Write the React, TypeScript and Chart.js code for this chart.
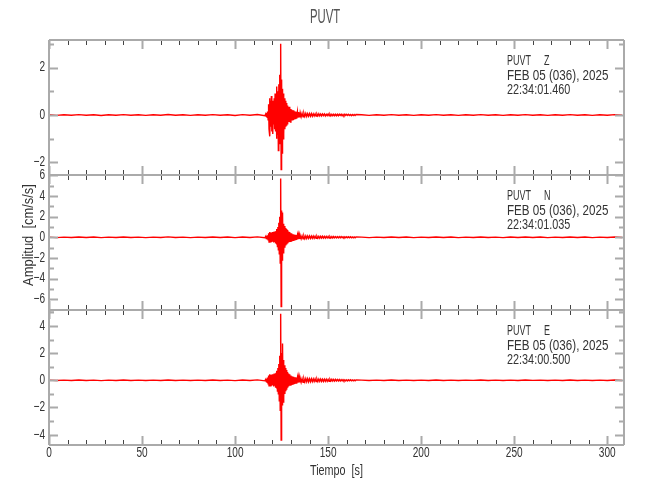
import { useEffect, useRef } from 'react';
import { Chart, registerables } from 'chart.js';

Chart.register(...registerables);

// ---------- text ----------
const STATION = 'PUVT';
const DATE_LABEL = 'FEB 05 (036), 2025';
const CHANNELS = ['Z', 'N', 'E'];
const START_TIMES = ['22:34:01.460', '22:34:01.035', '22:34:00.500'];
const X_TITLE = 'Tiempo  [s]';
const Y_TITLE = 'Amplitud  [cm/s/s]';

// ---------- axes ----------
const X_MAX = 309;
const X_LABELS = [0, 50, 100, 150, 200, 250, 300];
const Y_MIN = [-2.53, -7.04, -4.76];
const Y_MAX = [3.16, 6.03, 5.17];
const Y_LABELS_Z = [-2, 0, 2];
const Y_LABELS_N = [-6, -4, -2, 0, 2, 4, 6];
const Y_LABELS_E = [-4, -2, 0, 2, 4];

// ---------- sample times (s) ----------
const TIME_PRE = [0, 4, 8, 12, 16, 20, 24, 28, 32, 36, 40, 44, 48, 52, 56, 60, 64, 68, 72, 76, 80, 84, 88, 92, 96, 100, 104, 108, 112, 116];
const TIME_EVENT = [
  116.5, 116.75,
  117, 117.25, 117.5, 117.75, 118, 118.25, 118.5, 118.75, 119, 119.25, 119.5, 119.75,
  120, 120.25, 120.5, 120.75, 121, 121.25, 121.5, 121.75, 122, 122.25, 122.5, 122.75,
  123, 123.25, 123.5, 123.75, 124, 124.25, 124.5, 124.75, 125, 125.25, 125.5, 125.75,
  126, 126.25, 126.5, 126.75, 127, 127.25, 127.5, 127.75, 128, 128.25, 128.5, 128.75,
  129, 129.25, 129.5, 129.75, 130, 130.25, 130.5, 130.75, 131, 131.25, 131.5, 131.75,
  132, 132.25, 132.5, 132.75, 133, 133.25, 133.5, 133.75, 134, 134.25, 134.5, 134.75,
  135,
];
const TIME_CODA = [
  135.5, 136, 136.5, 137, 137.5, 138, 138.5, 139, 139.5, 140,
  140.5, 141, 141.5, 142, 142.5, 143, 143.5, 144, 144.5, 145,
  145.5, 146, 146.5, 147, 147.5, 148, 148.5, 149, 149.5, 150,
  150.5, 151, 151.5, 152, 152.5, 153, 153.5, 154, 154.5, 155,
  155.5, 156, 156.5, 157, 157.5, 158, 158.5, 159, 159.5, 160,
  160.5, 161, 161.5, 162, 162.5, 163, 163.5, 164, 164.5, 165,
];
const TIME_POST = [168, 172, 176, 180, 184, 188, 192, 196, 200, 204, 208, 212, 216, 220, 224, 228, 232, 236, 240, 244, 248, 252, 256, 260, 264, 268, 272, 276, 280, 284, 288, 292, 296, 300, 304, 308];

// ---------- Z channel (cm/s/s) ----------
const Z_PRE = [0.01, -0.015, 0.01, -0.01, 0.015, -0.01, 0.01, -0.02, 0.01, -0.01, 0.015, -0.01, 0.01, -0.015, 0.01, -0.01, 0.02, -0.01, 0.01, -0.015, 0.01, -0.01, 0.015, -0.01, 0.01, -0.02, 0.015, -0.01, 0.02, -0.03];
const Z_EVENT = [
  0.05, -0.06,
  0.08, -0.1, 0.15, -0.2,
  0.45, -0.6, 0.7, -0.9,
  0.6, -0.5, 0.8, -0.7,
  0.5, -0.8, 0.6, -0.4,
  0.7, -0.6, 0.9, -0.7,
  0.5, -1.0, 1.2, -0.8,
  1.0, -1.5, 1.3, -0.9,
  1.7, -1.2, 3.0, -2.3,
  1.5, -1.6, 1.1, -1.0,
  0.9, -0.8, 0.7, -0.6,
  0.6, -0.5, 0.5, -0.45,
  0.4, -0.4, 0.35, -0.3,
  0.35, -0.3, 0.25, -0.3,
  0.25, -0.2, 0.22, -0.2,
  0.2, -0.18, 0.2, -0.15,
  0.16, -0.15, 0.14, -0.13,
  0.14, -0.12, 0.12, -0.11,
  0.12, -0.1, 0.1, -0.1,
  0.09,
];
const Z_CODA = [
  -0.08, 0.07, -0.08, 0.07, -0.06, 0.07, -0.06, 0.06, -0.05, 0.06,
  -0.05, 0.06, -0.05, 0.05, -0.04, 0.05, -0.05, 0.04, -0.04, 0.05,
  -0.04, 0.04, -0.04, 0.04, -0.03, 0.04, -0.04, 0.03, -0.03, 0.04,
  -0.03, 0.03, -0.04, 0.03, -0.03, 0.03, -0.03, 0.03, -0.03, 0.03,
  -0.03, 0.03, -0.02, 0.03, -0.03, 0.02, -0.03, 0.03, -0.02, 0.03,
  -0.02, 0.03, -0.02, 0.02, -0.03, 0.02, -0.02, 0.02, -0.02, 0.02,
];
const Z_POST = [0.01, -0.015, 0.01, -0.01, 0.015, -0.01, 0.01, -0.015, 0.01, -0.01, 0.015, -0.01, 0.01, -0.015, 0.01, -0.01, 0.015, -0.01, 0.01, -0.015, 0.01, -0.01, 0.015, -0.01, 0.01, -0.015, 0.01, -0.01, 0.015, -0.01, 0.01, -0.015, 0.01, -0.01, 0.015, -0.01];

// ---------- N channel (cm/s/s) ----------
const N_PRE = [0.02, -0.03, 0.02, -0.025, 0.03, -0.02, 0.025, -0.03, 0.02, -0.02, 0.03, -0.025, 0.02, -0.03, 0.02, -0.02, 0.035, -0.025, 0.02, -0.03, 0.02, -0.025, 0.03, -0.02, 0.025, -0.035, 0.03, -0.02, 0.04, -0.05];
const N_EVENT = [
  0.1, -0.12,
  0.15, -0.15, 0.2, -0.25,
  0.4, -0.45, 0.5, -0.4,
  0.45, -0.5, 0.4, -0.45,
  0.5, -0.4, 0.45, -0.5,
  0.55, -0.45, 0.5, -0.6,
  0.6, -0.7, 0.8, -0.9,
  1.0, -1.2, 1.4, -1.6,
  2.0, -2.5, 5.7, -6.7,
  2.6, -2.2, 2.4, -1.5,
  1.3, -1.4, 1.1, -1.0,
  0.9, -0.8, 0.8, -0.7,
  0.7, -0.6, 0.55, -0.5,
  0.5, -0.45, 0.45, -0.4,
  0.4, -0.35, 0.35, -0.3,
  0.3, -0.3, 0.28, -0.25,
  0.25, -0.22, 0.25, -0.2,
  0.22, -0.2, 0.2, -0.18,
  0.18, -0.18, 0.17, -0.16,
  0.16,
];
const N_CODA = [
  -0.15, 0.14, -0.14, 0.13, -0.13, 0.13, -0.12, 0.12, -0.11, 0.12,
  -0.11, 0.11, -0.1, 0.11, -0.1, 0.1, -0.09, 0.1, -0.09, 0.09,
  -0.09, 0.09, -0.08, 0.09, -0.08, 0.08, -0.08, 0.08, -0.07, 0.08,
  -0.07, 0.07, -0.07, 0.07, -0.06, 0.07, -0.06, 0.06, -0.06, 0.06,
  -0.06, 0.06, -0.05, 0.06, -0.05, 0.05, -0.05, 0.05, -0.05, 0.05,
  -0.05, 0.05, -0.04, 0.05, -0.04, 0.04, -0.04, 0.04, -0.04, 0.04,
];
const N_POST = [0.02, -0.03, 0.02, -0.025, 0.03, -0.02, 0.025, -0.03, 0.02, -0.025, 0.03, -0.02, 0.025, -0.03, 0.02, -0.02, 0.03, -0.025, 0.02, -0.03, 0.025, -0.02, 0.03, -0.02, 0.025, -0.03, 0.02, -0.025, 0.03, -0.02, 0.025, -0.03, 0.02, -0.025, 0.03, -0.02];

// ---------- E channel (cm/s/s) ----------
const E_PRE = [0.015, -0.02, 0.015, -0.015, 0.02, -0.015, 0.015, -0.025, 0.015, -0.015, 0.02, -0.015, 0.015, -0.02, 0.015, -0.015, 0.025, -0.015, 0.015, -0.02, 0.015, -0.015, 0.02, -0.015, 0.015, -0.025, 0.02, -0.015, 0.03, -0.04];
const E_EVENT = [
  0.08, -0.1,
  0.12, -0.15, 0.2, -0.25,
  0.35, -0.4, 0.45, -0.35,
  0.4, -0.45, 0.35, -0.4,
  0.45, -0.35, 0.4, -0.45,
  0.5, -0.4, 0.45, -0.55,
  0.55, -0.6, 0.7, -0.8,
  0.9, -1.0, 1.2, -1.5,
  1.8, -2.2, 4.9, -4.4,
  2.0, -1.8, 2.7, -1.6,
  1.5, -1.3, 1.1, -1.0,
  0.9, -0.8, 0.75, -0.7,
  0.6, -0.55, 0.5, -0.45,
  0.45, -0.4, 0.38, -0.35,
  0.35, -0.3, 0.3, -0.28,
  0.28, -0.25, 0.25, -0.22,
  0.22, -0.2, 0.22, -0.2,
  0.2, -0.18, 0.18, -0.17,
  0.17, -0.16, 0.16, -0.15,
  0.15,
];
const E_CODA = [
  -0.14, 0.13, -0.14, 0.12, -0.12, 0.13, -0.11, 0.12, -0.11, 0.11,
  -0.1, 0.11, -0.1, 0.1, -0.09, 0.1, -0.09, 0.09, -0.09, 0.09,
  -0.08, 0.09, -0.08, 0.08, -0.08, 0.08, -0.07, 0.08, -0.07, 0.07,
  -0.07, 0.07, -0.06, 0.07, -0.06, 0.06, -0.06, 0.06, -0.05, 0.06,
  -0.05, 0.05, -0.05, 0.05, -0.04, 0.05, -0.04, 0.04, -0.04, 0.04,
  -0.04, 0.04, -0.03, 0.04, -0.03, 0.03, -0.03, 0.03, -0.03, 0.03,
];
const E_POST = [0.015, -0.02, 0.015, -0.015, 0.02, -0.015, 0.015, -0.02, 0.01, -0.015, 0.02, -0.015, 0.015, -0.02, 0.015, -0.01, 0.02, -0.015, 0.015, -0.02, 0.015, -0.015, 0.02, -0.01, 0.015, -0.02, 0.015, -0.015, 0.02, -0.015, 0.015, -0.02, 0.015, -0.015, 0.02, -0.015];

// ---------- styling ----------
const FONT = '"Liberation Sans", Arial, sans-serif';
const AXIS_GRAY = '#aaaaaa';
const TICK_DARK = '#444444';
const TEXT_DARK = '#333333';
const TITLE_GRAY = '#555555';
const TRACE_RED = '#ff0000';
const AXIS_IDS = ['yZ', 'yN', 'yE'];
const Y_LABELS = [Y_LABELS_Z, Y_LABELS_N, Y_LABELS_E];

function buildTrace(segments: [number[], number[]][]) {
  const pts: { x: number; y: number }[] = [];
  segments.forEach(([t, v]) => {
    const n = Math.min(t.length, v.length);
    for (let i = 0; i < n; i++) pts.push({ x: t[i], y: v[i] });
  });
  return pts;
}

const fmt = (v: number) => (v < 0 ? '\u2212' + Math.abs(v) : String(v));

function drawText(
  ctx: CanvasRenderingContext2D,
  text: string,
  x: number,
  y: number,
  size: number,
  squeeze: number,
  align: CanvasTextAlign,
  color: string,
  rotate = 0,
) {
  ctx.save();
  ctx.translate(x, y);
  if (rotate) ctx.rotate(rotate);
  ctx.scale(squeeze, 1);
  ctx.font = `${size}px ${FONT}`;
  ctx.textAlign = align;
  ctx.textBaseline = 'middle';
  ctx.fillStyle = color;
  ctx.fillText(text, 0, 0);
  ctx.restore();
}

const framePlugin = {
  id: 'seismoFrame',
  afterDatasetsDraw(chart: any) {
    const { ctx, chartArea } = chart;
    const xs = chart.scales.x;
    const L = chartArea.left;
    const R = chartArea.right;
    ctx.save();
    AXIS_IDS.forEach((id, p) => {
      const ys = chart.scales[id];
      const top = ys.top;
      const bottom = ys.bottom;
      // x ticks (inside, top & bottom of each panel)
      xs.ticks.forEach((t: any) => {
        const px = Math.round(xs.getPixelForValue(t.value)) + 0.5;
        const major = t.value % 50 === 0;
        ctx.strokeStyle = major ? AXIS_GRAY : TICK_DARK;
        ctx.lineWidth = major ? 2 : 1;
        const len = major ? 9 : 5;
        ctx.beginPath();
        ctx.moveTo(px, top);
        ctx.lineTo(px, top + len);
        ctx.moveTo(px, bottom);
        ctx.lineTo(px, bottom - len);
        ctx.stroke();
      });
      // y ticks (inside, left & right)
      ys.ticks.forEach((t: any) => {
        const py = Math.round(ys.getPixelForValue(t.value)) + 0.5;
        const major = t.value % 2 === 0;
        const len = major ? 9 : 5;
        ctx.strokeStyle = AXIS_GRAY;
        ctx.lineWidth = 2;
        ctx.beginPath();
        ctx.moveTo(L, py);
        ctx.lineTo(L + len, py);
        ctx.moveTo(R, py);
        ctx.lineTo(R - len, py);
        ctx.stroke();
      });
      // panel frame (horizontal)
      ctx.strokeStyle = AXIS_GRAY;
      ctx.lineWidth = 2;
      ctx.beginPath();
      ctx.moveTo(L, top);
      ctx.lineTo(R, top);
      ctx.moveTo(L, bottom);
      ctx.lineTo(R, bottom);
      ctx.stroke();
      // y tick labels
      Y_LABELS[p].forEach((v) => {
        drawText(ctx, fmt(v), L - 4, ys.getPixelForValue(v), 14, 0.72, 'right', TEXT_DARK);
      });
      // station annotation
      const ax = R - 117;
      drawText(ctx, STATION, ax, top + 21, 15.5, 0.58, 'left', TEXT_DARK);
      drawText(ctx, CHANNELS[p], R - 80, top + 21, 15.5, 0.58, 'left', TEXT_DARK);
      drawText(ctx, DATE_LABEL, ax, top + 35.5, 15.5, 0.75, 'left', TEXT_DARK);
      drawText(ctx, START_TIMES[p], ax, top + 50, 15.5, 0.7, 'left', TEXT_DARK);
    });
    // vertical frame
    ctx.strokeStyle = AXIS_GRAY;
    ctx.lineWidth = 2;
    ctx.beginPath();
    ctx.moveTo(L, chartArea.top);
    ctx.lineTo(L, chartArea.bottom);
    ctx.moveTo(R, chartArea.top);
    ctx.lineTo(R, chartArea.bottom);
    ctx.stroke();
    // x tick labels
    X_LABELS.forEach((v) => {
      drawText(ctx, String(v), xs.getPixelForValue(v), chartArea.bottom + 8, 14, 0.72, 'center', TEXT_DARK);
    });
    // axis titles
    drawText(ctx, X_TITLE, (L + R) / 2, chartArea.bottom + 26, 15, 0.72, 'center', TEXT_DARK);
    drawText(ctx, Y_TITLE, 29, 235, 15, 0.86, 'center', TEXT_DARK, -Math.PI / 2);
    // main title
    drawText(ctx, STATION, chart.width / 2, 18, 19.5, 0.58, 'center', TITLE_GRAY);
    ctx.restore();
  },
};

export default function App() {
  const ref = useRef<HTMLCanvasElement | null>(null);

  useEffect(() => {
    if (!ref.current) return;
    const traceZ = buildTrace([[TIME_PRE, Z_PRE], [TIME_EVENT, Z_EVENT], [TIME_CODA, Z_CODA], [TIME_POST, Z_POST]]);
    const traceN = buildTrace([[TIME_PRE, N_PRE], [TIME_EVENT, N_EVENT], [TIME_CODA, N_CODA], [TIME_POST, N_POST]]);
    const traceE = buildTrace([[TIME_PRE, E_PRE], [TIME_EVENT, E_EVENT], [TIME_CODA, E_CODA], [TIME_POST, E_POST]]);

    const yAxis = (i: number) => ({
      type: 'linear' as const,
      position: 'left' as const,
      stack: 'traces',
      stackWeight: 1,
      min: Y_MIN[i],
      max: Y_MAX[i],
      ticks: { stepSize: 1, includeBounds: false, display: false },
      grid: { display: false },
      border: { display: false },
      afterFit: (s: any) => {
        s.width = 49;
      },
    });

    const ds = (data: any[], axis: string) => ({
      data,
      yAxisID: axis,
      xAxisID: 'x',
      borderColor: TRACE_RED,
      borderWidth: 1.4,
      pointRadius: 0,
      tension: 0,
      fill: false,
    });

    const chart = new Chart(ref.current, {
      type: 'line',
      data: { datasets: [ds(traceZ, 'yZ'), ds(traceN, 'yN'), ds(traceE, 'yE')] },
      options: {
        animation: false,
        responsive: false,
        events: [],
        parsing: false,
        layout: { padding: { left: 0, right: 26, top: 40, bottom: 0 } },
        plugins: { legend: { display: false }, tooltip: { enabled: false }, title: { display: false } },
        scales: {
          x: {
            type: 'linear',
            position: 'bottom',
            min: 0,
            max: X_MAX,
            ticks: { stepSize: 10, includeBounds: false, display: false },
            grid: { display: false },
            border: { display: false },
            afterFit: (s: any) => {
              s.height = 55;
            },
          },
          yE: yAxis(2),
          yN: yAxis(1),
          yZ: yAxis(0),
        } as any,
      },
      plugins: [framePlugin],
    });
    return () => chart.destroy();
  }, []);

  return (
    <div style={{ position: 'absolute', left: 0, top: 0, width: 650, height: 500, background: '#fff' }}>
      <canvas ref={ref} width={650} height={500} style={{ width: 650, height: 500, display: 'block' }} />
    </div>
  );
}
